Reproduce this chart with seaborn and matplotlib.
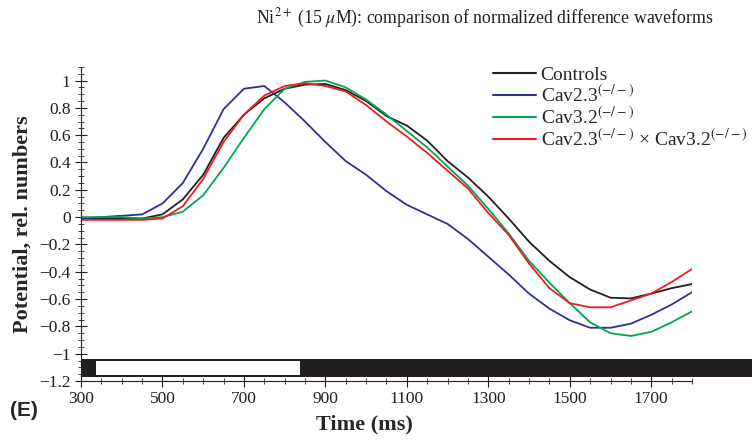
import matplotlib
matplotlib.use("Agg")
import matplotlib.pyplot as plt
from matplotlib.patches import Rectangle
from matplotlib.ticker import MultipleLocator, FixedLocator, FixedFormatter
import pandas as pd
import seaborn as sns

# time axis (ms), sampled every 50 ms
time_ms = [300, 350, 400, 450, 500, 550, 600, 650, 700, 750, 800, 850, 900, 950, 1000,
           1050, 1100, 1150, 1200, 1250, 1300, 1350, 1400, 1450, 1500, 1550, 1600,
           1650, 1700, 1750, 1800]

controls = [-0.01, -0.01, -0.01, -0.01, 0.02, 0.13, 0.31, 0.58, 0.75, 0.87, 0.94, 0.97,
            0.975, 0.93, 0.85, 0.74, 0.67, 0.56, 0.41, 0.29, 0.15, -0.01, -0.18, -0.32,
            -0.44, -0.53, -0.59, -0.595, -0.56, -0.52, -0.49]
cav23 = [-0.01, 0.0, 0.01, 0.02, 0.10, 0.25, 0.50, 0.79, 0.94, 0.96, 0.84, 0.70, 0.55,
         0.41, 0.31, 0.19, 0.09, 0.02, -0.05, -0.16, -0.29, -0.42, -0.56, -0.67,
         -0.755, -0.81, -0.81, -0.78, -0.715, -0.64, -0.55]
cav32 = [0.0, 0.0, 0.0, -0.01, 0.0, 0.04, 0.16, 0.36, 0.58, 0.79, 0.94, 0.99, 1.0, 0.95,
         0.86, 0.75, 0.63, 0.51, 0.37, 0.23, 0.06, -0.12, -0.32, -0.48, -0.63, -0.77,
         -0.85, -0.87, -0.84, -0.77, -0.69]
double_ko = [-0.02, -0.02, -0.02, -0.02, -0.01, 0.08, 0.28, 0.55, 0.75, 0.89, 0.96, 0.98,
             0.96, 0.92, 0.82, 0.70, 0.59, 0.47, 0.34, 0.21, 0.03, -0.13, -0.34, -0.52,
             -0.63, -0.66, -0.66, -0.61, -0.56, -0.475, -0.38]

series_names = ["Controls", "Cav2.3$^{(-/-)}$", "Cav3.2$^{(-/-)}$",
                "Cav2.3$^{(-/-)}$ \u00d7 Cav3.2$^{(-/-)}$"]
series_colors = ["#231f20", "#2e3192", "#00a651", "#ed1c24"]

# stimulus bar: black band with white (Ni2+ application) window
stim_band = [300, 1960]
stim_window = [337, 837]

y_ticks = [-1.2, -1, -0.8, -0.6, -0.4, -0.2, 0, 0.2, 0.4, 0.6, 0.8, 1]
y_ticklabels = ["\u22121.2", "\u22121", "\u22120.8", "\u22120.6", "\u22120.4", "\u22120.2",
                "0", "0.2", "0.4", "0.6", "0.8", "1"]
x_ticks = [300, 500, 700, 900, 1100, 1300, 1500, 1700]

df = pd.DataFrame({"Time": time_ms * 4,
                   "Potential": controls + cav23 + cav32 + double_ko,
                   "Group": sum([[n] * len(time_ms) for n in series_names], [])})

sns.set_style("white")
plt.rcParams["font.family"] = ["Liberation Serif", "DejaVu Serif"]
plt.rcParams["mathtext.fontset"] = "stix"

fig = plt.figure(figsize=(7.52, 4.40), dpi=100)
ax = fig.add_axes([0.1077, 0.134, 0.8125, 0.714])

sns.lineplot(data=df, x="Time", y="Potential", hue="Group", hue_order=series_names,
             palette=series_colors, linewidth=1.3, ax=ax, legend=False, sort=False)

ax.set_xlim(300, 1800)
ax.set_ylim(-1.2, 1.1)

# stimulus bar under the traces
ax.add_patch(Rectangle((stim_band[0], -1.17), stim_band[1] - stim_band[0], 0.128,
                       facecolor="#231f20", edgecolor="none", clip_on=False, zorder=3))
ax.add_patch(Rectangle((stim_window[0], -1.158), stim_window[1] - stim_window[0], 0.105,
                       facecolor="white", edgecolor="none", clip_on=False, zorder=4))

sns.despine(ax=ax, top=True, right=True)
for s in ["left", "bottom"]:
    ax.spines[s].set_color("#231f20")
    ax.spines[s].set_linewidth(0.8)

ax.yaxis.set_major_locator(FixedLocator(y_ticks))
ax.yaxis.set_major_formatter(FixedFormatter(y_ticklabels))
ax.yaxis.set_minor_locator(MultipleLocator(0.05))
ax.xaxis.set_major_locator(FixedLocator(x_ticks))
ax.xaxis.set_minor_locator(MultipleLocator(50))
ax.tick_params(which="major", direction="inout", length=8, width=0.8, color="#231f20",
               labelsize=12.5, labelcolor="#231f20")
ax.tick_params(which="minor", direction="inout", length=5, width=0.6, color="#231f20")
ax.tick_params(axis="x", which="both", bottom=True)
ax.tick_params(axis="y", which="both", left=True)

ax.set_xlabel("Time (ms)", fontsize=16, fontweight="bold", labelpad=4)
ax.xaxis.set_label_coords(0.464, -0.105, transform=ax.transAxes)
ax.xaxis.label.set_va("top")
ax.set_ylabel("Potential, rel. numbers", fontsize=16, fontweight="bold", labelpad=5)
fig.text(0.644, 0.959, "Ni$^{2+}$ (15 $\\mu$M): comparison of normalized difference waveforms",
         ha="center", va="center", fontsize=12.8, color="#231f20")

handles = [plt.Line2D([], [], color=c, lw=1.5) for c in series_colors]
fig.legend(handles, series_names, loc="upper left", bbox_to_anchor=(0.6556, 0.85),
           frameon=False, fontsize=14, handlelength=2.2, handletextpad=0.25,
           labelspacing=0.0, borderaxespad=0, borderpad=0)

fig.text(0.013, 0.068, "(E)", fontsize=15, fontweight="bold",
         family=["Liberation Sans", "DejaVu Sans"], ha="left", va="center")

fig.savefig("out.png", dpi=100)
